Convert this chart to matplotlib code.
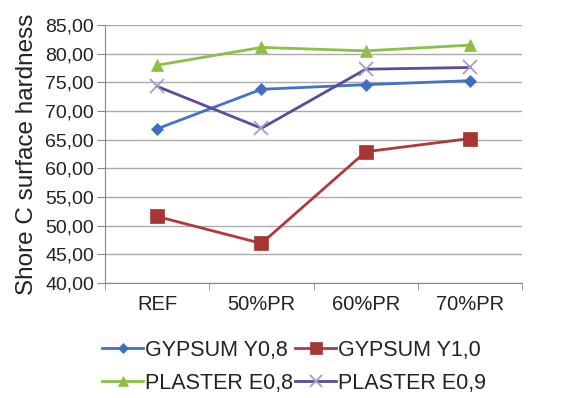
import matplotlib
matplotlib.use("Agg")
import matplotlib.pyplot as plt
from matplotlib.ticker import FixedLocator, FuncFormatter

plt.rcParams['font.family'] = ['Liberation Sans', 'DejaVu Sans']

categories = ["REF", "50%PR", "60%PR", "70%PR"]
gypsum_y08 = [66.9, 73.8, 74.6, 75.3]
gypsum_y10 = [51.6, 46.9, 62.9, 65.2]
plaster_e08 = [78.0, 81.1, 80.5, 81.5]
plaster_e09 = [74.3, 67.0, 77.3, 77.6]

series = [
    ("GYPSUM Y0,8", gypsum_y08, "#4472C4", "#3F6FC0", "D", 6),
    ("GYPSUM Y1,0", gypsum_y10, "#B03A3A", "#A83434", "s", 10),
    ("PLASTER E0,8", plaster_e08, "#8DBF43", "#8DBF43", "^", 8),
    ("PLASTER E0,9", plaster_e09, "#5E4A96", "#A99BD0", "x", 10),
]

fig = plt.figure(figsize=(5.77, 3.98), dpi=100)
ax = fig.add_axes([0.182, 0.289, 0.723, 0.648])

x = list(range(len(categories)))
handles = []
for name, vals, col, mcol, mk, ms in series:
    h, = ax.plot(x, vals, color=col, marker=mk, markersize=ms, linewidth=2,
                 markeredgewidth=1.3 if mk == "x" else 0.5,
                 markeredgecolor=mcol, markerfacecolor=mcol, label=name)
    handles.append(h)

ax.set_xlim(-0.5, len(categories) - 0.5)
ax.set_ylim(40, 85)
ax.yaxis.set_major_locator(FixedLocator([40 + 5 * i for i in range(10)]))
ax.yaxis.set_major_formatter(FuncFormatter(lambda v, p: f"{v:.2f}".replace(".", ",")))
ax.set_xticks(x)
ax.set_xticklabels(categories)
ax.set_xticks([i - 0.5 for i in range(len(categories) + 1)], minor=True)
ax.tick_params(axis='x', which='major', length=0, pad=9, labelsize=14.5, labelcolor="#222222")
ax.tick_params(axis='x', which='minor', length=5, color="#888888", direction='out')
ax.tick_params(axis='y', length=6, color="#888888", direction='out', labelsize=14,
               pad=2, labelcolor="#222222")

ax.grid(axis='y', color="#AAAAAA", linewidth=1)
ax.set_axisbelow(True)
for s in ["top", "right"]:
    ax.spines[s].set_visible(False)
for s in ["left", "bottom"]:
    ax.spines[s].set_color("#888888")

ax.set_ylabel("Shore C surface hardness", fontsize=17.5, labelpad=5, color="#222222")

# two rows: gypsum on the first, plaster on the second
order = [handles[0], handles[2], handles[1], handles[3]]
leg = fig.legend(order, [h.get_label() for h in order],
                 loc="lower center", bbox_to_anchor=(0.51, -0.038), ncol=2,
                 frameon=False, fontsize=15.5, handlelength=1.9, markerscale=0.85,
                 handletextpad=0.1, columnspacing=0.1, labelspacing=0.55)
for t in leg.get_texts():
    t.set_color("#222222")

fig.savefig("out.png", dpi=100)
